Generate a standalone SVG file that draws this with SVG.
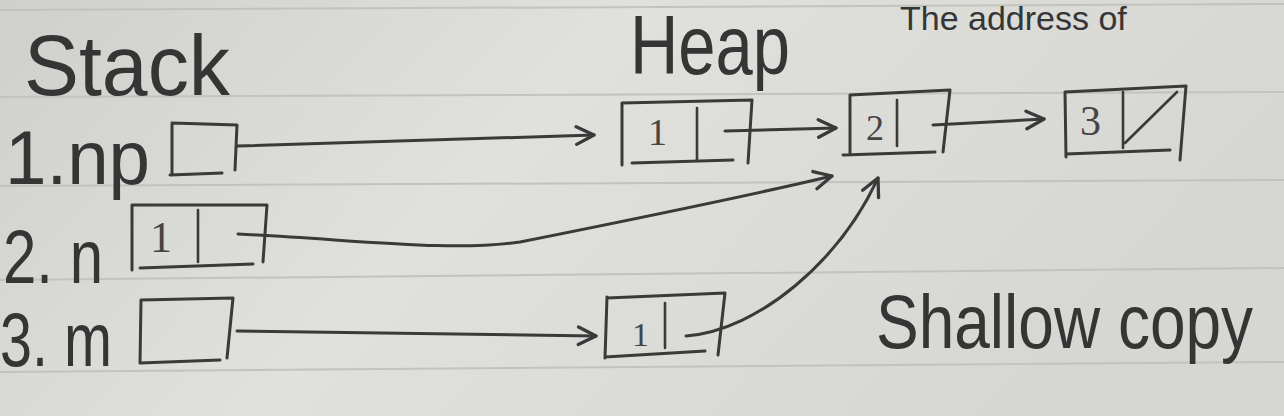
<svg xmlns="http://www.w3.org/2000/svg" width="1284" height="416" viewBox="0 0 1284 416">
<defs>
<linearGradient id="paper" x1="0" y1="0" x2="1" y2="0.3">
<stop offset="0" stop-color="#cfcfcc"/>
<stop offset="0.45" stop-color="#e0e0dd"/>
<stop offset="1" stop-color="#d6d6d3"/>
</linearGradient>
<marker id="head" viewBox="0 0 20 20" refX="18" refY="10" markerWidth="22" markerHeight="22" markerUnits="userSpaceOnUse" orient="auto">
<path d="M2,2 L18,10 L2,18" fill="none" stroke="#3a3a3a" stroke-width="3" stroke-linecap="round" stroke-linejoin="round"/>
</marker>
</defs>
<style>
.ink{fill:none;stroke:#3a3a3a;stroke-width:3;stroke-linecap:round;stroke-linejoin:round}
.ink2{fill:none;stroke:#3a3a3a;stroke-width:2.6;stroke-linecap:round}
.rule{stroke:#c2c2bf;stroke-width:2}
.hand{font-family:"Liberation Sans",Arial,sans-serif;fill:#353535}
.cell{font-family:"Liberation Serif","Times New Roman",serif;fill:#444}
</style>
<rect width="1284" height="416" fill="url(#paper)"/>
<g id="rules">
<line class="rule" x1="0" y1="10" x2="1284" y2="4"/>
<line class="rule" x1="0" y1="97" x2="1284" y2="92"/>
<line class="rule" x1="0" y1="186" x2="1284" y2="180"/>
<line class="rule" x1="0" y1="280" x2="1284" y2="268"/>
<line class="rule" x1="0" y1="372" x2="1284" y2="362"/>
</g>
<g id="titles">
<text class="hand" x="24" y="95" font-size="86" textLength="206" lengthAdjust="spacingAndGlyphs">Stack</text>
<text class="hand" x="630" y="74" font-size="84" textLength="160" lengthAdjust="spacingAndGlyphs">Heap</text>
<text class="hand" x="900" y="30" font-size="34">The address of</text>
<text class="hand" x="876" y="290" font-size="64" transform="scale(1,1.2)">Shallow copy</text>
</g>
<g id="stack-np">
<text class="hand" x="5" y="184" font-size="76" textLength="145" lengthAdjust="spacingAndGlyphs">1.np</text>
<path class="ink" d="M172,124 L172,175 M172,123 L237,125 L235,170 M170,175 L222,173"/>
</g>
<g id="stack-n">
<text class="hand" x="3" y="283" font-size="76" textLength="100" lengthAdjust="spacingAndGlyphs">2. n</text>
<path class="ink" d="M132,205 L132,270 M132,205 L267,205 L263,262 M140,268 L253,264"/>
<path class="ink2" d="M198,210 L198,262"/>
<text class="cell" x="150" y="252" font-size="44">1</text>
</g>
<g id="stack-m">
<text class="hand" x="0" y="366" font-size="76" textLength="112" lengthAdjust="spacingAndGlyphs">3. m</text>
<path class="ink" d="M141,300 L140,363 M141,300 L233,298 L227,358 M140,363 L220,360"/>
</g>
<g id="heap-1">
<path class="ink" d="M622,103 L622,165 M622,103 L752,100 L748,163 M632,163 L733,160"/>
<path class="ink2" d="M697,108 L697,160"/>
<text class="cell" x="648" y="145" font-size="38">1</text>
</g>
<g id="heap-2">
<path class="ink" d="M850,95 L850,153 M850,95 L950,90 L943,152 M843,155 L935,152"/>
<path class="ink2" d="M897,100 L897,146"/>
<text class="cell" x="866" y="140" font-size="36">2</text>
</g>
<g id="heap-3">
<path class="ink" d="M1065,92 L1066,157 M1065,92 L1186,86 L1180,160 M1066,154 L1170,150"/>
<path class="ink2" d="M1123,92 L1123,148 M1125,143 L1177,92"/>
<text class="cell" x="1080" y="135" font-size="42">3</text>
</g>
<g id="heap-copy">
<path class="ink" d="M607,297 L605,358 M607,298 L725,293 L718,355 M605,357 L705,351"/>
<path class="ink2" d="M665,303 L665,348"/>
<text class="cell" x="632" y="346" font-size="34">1</text>
</g>
<g id="connectors">
<path class="ink" d="M237,146 L594,135" marker-end="url(#head)"/>
<path class="ink" d="M725,131 L836,128" marker-end="url(#head)"/>
<path class="ink" d="M933,125 L1044,119" marker-end="url(#head)"/>
<path class="ink" d="M238,234 C360,240 450,252 520,242 C620,222 740,198 832,176" marker-end="url(#head)"/>
<path class="ink" d="M237,331 L596,336" marker-end="url(#head)"/>
<path class="ink" d="M686,336 C760,330 840,260 878,178" marker-end="url(#head)"/>
</g>
</svg>
